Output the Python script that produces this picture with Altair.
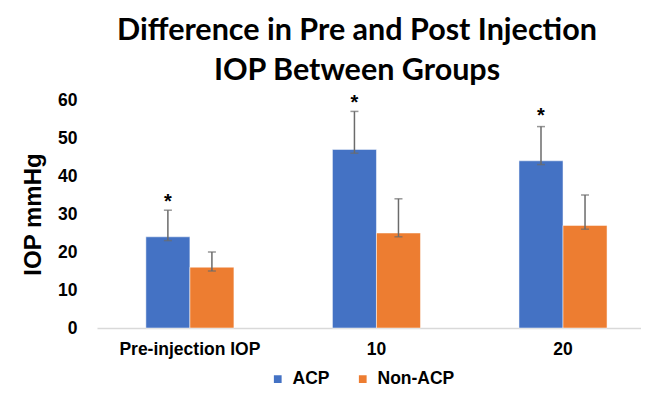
import altair as alt
import pandas as pd

groups = ["Pre-injection IOP", "10", "20"]
series = ["ACP", "Non-ACP"]
acp_mean = [24, 47, 44]
acp_lo = [23, 46, 43]
acp_hi = [31, 57, 53]
non_mean = [16, 25, 27]
non_lo = [15, 24, 26]
non_hi = [20, 34, 35]
star_y = [34, 60, 56.5]
y_ticks = [0, 10, 20, 30, 40, 50, 60]
colors = ["#4472C4", "#ED7D31"]

rows = []
for i, g in enumerate(groups):
    rows.append({"group": g, "series": "ACP", "value": acp_mean[i], "lo": acp_lo[i], "hi": acp_hi[i], "star": star_y[i]})
    rows.append({"group": g, "series": "Non-ACP", "value": non_mean[i], "lo": non_lo[i], "hi": non_hi[i], "star": None})
df = pd.DataFrame(rows)

LBL = "Liberation Sans"

yaxis = alt.Axis(title="IOP mmHg", values=y_ticks, grid=False, domain=False, ticks=False,
                 labelOverlap=False,
                 labelFont=LBL, labelFontWeight="bold", labelFontSize=17.5, labelColor="#000000", labelPadding=20,
                 titleFont=LBL, titleFontWeight="bold", titleFontSize=24, titleColor="#000000", titlePadding=12)

x = alt.X("group:N", sort=groups,
          scale=alt.Scale(domain=groups, paddingInner=0.528, paddingOuter=0.222, align=0.59),
          axis=alt.Axis(title=None, labelAngle=0, ticks=False, domainColor="#D9D9D9", domainWidth=1.5,
                        labelFont=LBL, labelFontWeight="bold", labelFontSize=17.5, labelColor="#000000",
                        labelPadding=12))
xo = alt.XOffset("series:N", sort=series, scale=alt.Scale(domain=series, paddingInner=0, paddingOuter=0))
ysc = alt.Scale(domain=[0, 60])

base = alt.Chart(df)

bars = base.mark_bar(stroke="white", strokeWidth=0.5).encode(
    x=x, xOffset=xo,
    y=alt.Y("value:Q", scale=ysc, axis=yaxis),
    color=alt.Color("series:N", sort=series, scale=alt.Scale(domain=series, range=colors),
                    legend=alt.Legend(title=None, orient="none", direction="horizontal", legendX=172, legendY=270,
                                      symbolType="square", symbolSize=60, symbolStrokeWidth=0,
                                      labelFont=LBL, labelFontWeight="bold", labelFontSize=17.5, labelColor="#000000",
                                      columnPadding=24, labelOffset=6)),
)

rules = base.mark_rule(color="#6b6b6b", strokeWidth=1.5).encode(
    x=x, xOffset=xo, y=alt.Y("lo:Q", scale=ysc, axis=yaxis), y2="hi:Q")
cap_lo = base.mark_tick(color="#6b6b6b", thickness=1.5, size=8).encode(
    x=x, xOffset=xo, y=alt.Y("lo:Q", scale=ysc, axis=yaxis))
cap_hi = base.mark_tick(color="#6b6b6b", thickness=1.5, size=8).encode(
    x=x, xOffset=xo, y=alt.Y("hi:Q", scale=ysc, axis=yaxis))
stars = base.transform_filter(alt.datum.series == "ACP").mark_text(
    text="*", font=LBL, fontSize=20, fontWeight="bold", color="#000000", baseline="middle", dy=3).encode(
    x=x, xOffset=xo, y=alt.Y("star:Q", scale=ysc, axis=yaxis))

chart = alt.layer(bars, rules, cap_lo, cap_hi, stars).properties(
    width=544, height=228,
    autosize=alt.AutoSizeParams(type="none"),
    padding={"left": 89, "top": 92, "right": 0, "bottom": 59},
    title=alt.TitleParams(text=["Difference in Pre and Post Injection", "IOP Between Groups"],
                          font="Lato", fontWeight="bold", fontSize=30.5, color="#000000",
                          anchor="middle", lineHeight=40, offset=5, dx=-12),
).configure_view(stroke=None)

chart.save("out.html", embed_options={"renderer": "svg", "actions": False})
